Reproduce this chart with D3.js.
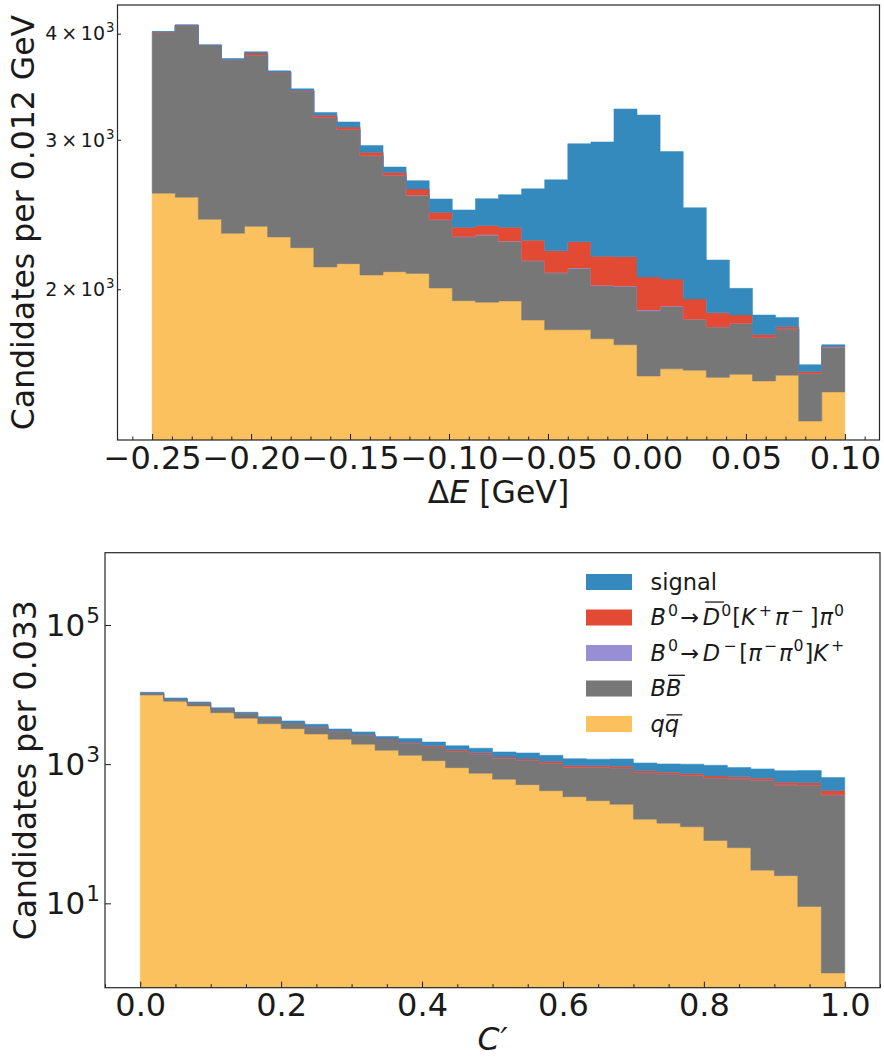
<!DOCTYPE html>
<html><head><meta charset="utf-8">
<script src="https://cdn.jsdelivr.net/npm/d3@7"></script>
<style>
body{margin:0;background:#fff}
svg{display:block}
text{font-family:"DejaVu Sans";fill:#1a1a1a}
</style>
</head><body>
<svg id="chart" width="884" height="1059"></svg>
<script>
// ================= DATA =================
// Panel 1: Delta E [GeV], 30 bins from -0.25 to 0.10
const dERange = [-0.25, 0.10];
const dENBins = 30;
const dE_qq     = [2595,2567,2418,2328,2372,2305,2239,2125,2144,2079,2098,2088,2007,1939,1931,1938,1840,1792,1792,1749,1721,1581,1612,1606,1575,1588,1560,1584,1399,1514];
const dE_BB     = [1420,1523,1455,1397,1403,1294,1185,1060,939,792,624,492,407,366,385,340,319,298,324,270,294,305,297,236,230,235,194,212,192,195];
const dE_Dminus = [1,1,1,1,1,1,1,2,2,2,2,2,2,2,2,2,3,3,3,3,3,5,2,2,1,1,1,1,1,1];
const dE_D0bar  = [2,2,2,3,20,4,5,18,20,26,22,43,48,59,60,86,123,127,156,165,167,177,145,104,70,41,14,10,8,3];
const dE_signal = [4,3,4,10,12,12,14,25,43,55,40,60,91,114,179,219,341,471,693,795,1076,1140,849,547,289,140,96,46,30,8];

// Panel 2: C', 30 bins from 0 to 1
const cpRange = [0, 1];
const cpNBins = 30;
const cp_qq     = [9870,8010,6858,5494,4565,3818,3237,2716,2279,1932,1584,1342,1123,891,740,607,508,416,341,299,265,162,142,126,80,63,30,25,9,1];
const cp_BB     = [565,550,711,711,815,833,663,709,720,697,665,674,661,656,661,609,630,624,562,604,617,593,581,567,554,550,558,477,493,360];
const cp_Dminus = [4,4,3,4,3,3,3,3,3,2,3,2,2,3,2,2,2,2,2,2,2,2,2,2,1,2,1,2,1,1];
const cp_D0bar  = [6,6,7,8,9,10,12,20,30,30,50,55,55,60,50,53,50,55,48,42,50,50,42,38,42,42,40,45,38,55];
const cp_signal = [350,370,256,271,182,157,268,287,175,247,192,272,239,229,244,228,260,241,248,234,255,233,242,267,287,236,226,258,270,224];

// stacking order, bottom to top
const seriesKeys = ["qq","BB","Dminus","D0bar","signal"];
const seriesColors = {signal:"#348ABD", D0bar:"#E24A33", Dminus:"#988ED5", BB:"#777777", qq:"#FBC15E"};

// ticks
const topXTicks = [-0.25,-0.20,-0.15,-0.10,-0.05,0.00,0.05,0.10];
const topXTickLabels = ["\u22120.25","\u22120.20","\u22120.15","\u22120.10","\u22120.05","0.00","0.05","0.10"];
const topXMinor = [-0.26,-0.24,-0.23,-0.22,-0.21,-0.19,-0.18,-0.17,-0.16,-0.14,-0.13,-0.12,-0.11,-0.09,-0.08,-0.07,-0.06,-0.04,-0.03,-0.02,-0.01,0.01,0.02,0.03,0.04,0.06,0.07,0.08,0.09,0.11];
const topYTicks = [2000,3000,4000];
const topYTickMant = ["2","3","4"];
const topYTickExp = ["3","3","3"];
const botXTicks = [0.0,0.2,0.4,0.6,0.8,1.0];
const botXTickLabels = ["0.0","0.2","0.4","0.6","0.8","1.0"];
const botXMinor = [-0.05,0.05,0.1,0.15,0.25,0.3,0.35,0.45,0.5,0.55,0.65,0.7,0.75,0.85,0.9,0.95,1.05];
const botYTicks = [10,1000,100000];
const botYTickExp = ["1","3","5"];

// legend (display order) and labels as text tokens: i=italic, s=superscript, o=overline, dx=kerning gap
const legendKeys = ["signal","D0bar","Dminus","BB","qq"];
const legendLabels = {
  signal: [{t:"signal"}],
  D0bar: [{t:"B",i:1},{t:"0",s:1,dx:2},{t:"\u2192",dx:2},{t:"D",i:1,o:1.02,dx:4},{t:"0",s:1,dx:1},{t:"[",dx:1},{t:"K",i:1},{t:"+",s:1,dx:3},{t:"\u03c0",i:1,dx:3},{t:"\u2212",s:1,dx:2},{t:"]",dx:6},{t:"\u03c0",i:1,dx:1},{t:"0",s:1,dx:1}],
  Dminus: [{t:"B",i:1},{t:"0",s:1,dx:2},{t:"\u2192",dx:2},{t:"D",i:1,dx:4},{t:"\u2212",s:1,dx:3},{t:"[",dx:3},{t:"\u03c0",i:1},{t:"\u2212",s:1,dx:2},{t:"\u03c0",i:1,dx:2},{t:"0",s:1,dx:1},{t:"]",dx:1},{t:"K",i:1},{t:"+",s:1,dx:3}],
  BB: [{t:"B",i:1},{t:"B",i:1,o:0.92}],
  qq: [{t:"q",i:1},{t:"q",i:1,o:0.74}]
};

// ================= DRAWING =================
const svg = d3.select("#chart");

function addMath(textSel, tokens, fontSize) {
  let raised = false;
  const shift = fontSize * 0.42;
  const overs = [];
  let idx = 0;
  tokens.forEach(tok => {
    const ts = textSel.append("tspan").text(tok.t);
    if (tok.i) ts.style("font-style", "italic");
    if (tok.dx) ts.attr("dx", tok.dx);
    if (tok.s) {
      ts.style("font-size", (fontSize * 0.7) + "px");
      if (!raised) { ts.attr("dy", -shift); raised = true; }
    } else if (raised) {
      ts.attr("dy", shift); raised = false;
    }
    if (tok.o) overs.push({start: idx, end: idx + tok.t.length - 1, h: tok.o, italic: !!tok.i});
    idx += tok.t.length;
  });
  // manual overlines
  const el = textSel.node();
  const parent = d3.select(el.parentNode);
  overs.forEach(o => {
    const s = el.getStartPositionOfChar(o.start);
    const e = el.getEndPositionOfChar(o.end);
    const rise = o.h * fontSize;
    const slant = o.italic ? rise * 0.1 : 0;
    parent.append("line")
      .attr("x1", s.x + slant).attr("x2", e.x + slant + 1.5)
      .attr("y1", s.y - rise).attr("y2", s.y - rise)
      .attr("stroke", "#1a1a1a").attr("stroke-width", 1.3);
  });
}

function drawPanel(p) {
  const g = svg.append("g");
  const x = d3.scaleLinear().domain(p.xDomain).range([p.left, p.right]);
  const y = d3.scaleLog().domain(p.yDomain).range([p.bottom, p.top]);
  const n = p.nBins;
  const edges = d3.range(n + 1).map(i => p.binRange[0] + i * (p.binRange[1] - p.binRange[0]) / n);
  const rows = d3.range(n).map(i => {
    const r = {};
    seriesKeys.forEach(k => r[k] = p.data[k][i]);
    return r;
  });
  const stacked = d3.stack().keys(seriesKeys)(rows);
  const ymin = p.yDomain[0];
  const clipId = "clip" + p.id;
  svg.append("clipPath").attr("id", clipId).append("rect")
    .attr("x", p.left).attr("y", p.top).attr("width", p.right - p.left).attr("height", p.bottom - p.top);
  const area = d3.area()
    .curve(d3.curveStepAfter)
    .x((d, i) => x(edges[i]))
    .y0(d => y(Math.max(d[0], ymin)))
    .y1(d => y(Math.max(d[1], ymin)));
  const plot = g.append("g").attr("clip-path", `url(#${clipId})`);
  stacked.forEach(layer => {
    const pts = d3.range(n + 1).map(i => layer[Math.min(i, n - 1)]);
    plot.append("path")
      .attr("d", area(pts))
      .attr("fill", seriesColors[layer.key])
      .attr("stroke", seriesColors[layer.key])
      .attr("stroke-width", 0.5);
  });

  // x axis ticks (inward)
  const xMajor = g.append("g").attr("transform", `translate(0,${p.bottom})`)
    .call(d3.axisBottom(x).tickValues(p.xTicks).tickFormat((d, i) => p.xTickLabels[i])
      .tickSizeInner(-6).tickSizeOuter(0).tickPadding(p.xTickPad));
  xMajor.select(".domain").remove();
  xMajor.selectAll("text").style("font-size", p.tickFont + "px").attr("fill", "#1a1a1a").style("font-family", "DejaVu Sans");
  xMajor.selectAll("line").attr("stroke", "#1a1a1a");
  const xMinor = g.append("g").attr("transform", `translate(0,${p.bottom})`)
    .call(d3.axisBottom(x).tickValues(p.xMinor).tickFormat("").tickSizeInner(-3.5).tickSizeOuter(0));
  xMinor.select(".domain").remove();
  xMinor.selectAll("line").attr("stroke", "#1a1a1a");

  // y axis ticks (inward)
  const yAx = g.append("g").attr("transform", `translate(${p.left},0)`)
    .call(d3.axisLeft(y).tickValues(p.yTicks).tickFormat("").tickSizeInner(-p.yTickLen).tickSizeOuter(0));
  yAx.select(".domain").remove();
  yAx.selectAll("line").attr("stroke", "#1a1a1a");
  p.yTicks.forEach((v, i) => {
    const t = g.append("text")
      .attr("x", p.left - p.yLabelPad)
      .attr("y", y(v))
      .attr("dy", "0.36em")
      .attr("text-anchor", "end")
      .style("font-size", p.yTickFont + "px");
    const toks = [];
    if (p.yTickMant) { toks.push({t: p.yTickMant[i]}); toks.push({t: "\u2009\u00d7\u200910"}); }
    else toks.push({t: "10"});
    toks.push({t: p.yTickExp[i], s: 1, dx: 1});
    addMath(t, toks, p.yTickFont);
  });

  // frame
  g.append("rect")
    .attr("x", p.left).attr("y", p.top)
    .attr("width", p.right - p.left).attr("height", p.bottom - p.top)
    .attr("fill", "none").attr("stroke", "#262626").attr("stroke-width", 1.2);

  // axis labels
  const xl = g.append("text")
    .attr("x", (p.left + p.right) / 2).attr("y", p.xLabelY)
    .attr("text-anchor", "middle").style("font-size", p.labelFont + "px");
  addMath(xl, p.xLabelTokens, p.labelFont);
  g.append("text")
    .attr("transform", `translate(${p.yLabelX},${(p.top + p.bottom) / 2}) rotate(-90)`)
    .attr("text-anchor", "middle").style("font-size", p.labelFont + "px")
    .text(p.yLabel);
  return {x, y};
}

drawPanel({
  id: 1, left: 117.5, right: 879.5, top: 5, bottom: 440,
  xDomain: [-0.2675, 0.1175], yDomain: [1329, 4323],
  binRange: dERange, nBins: dENBins,
  data: {qq: dE_qq, BB: dE_BB, Dminus: dE_Dminus, D0bar: dE_D0bar, signal: dE_signal},
  xTicks: topXTicks, xTickLabels: topXTickLabels, xMinor: topXMinor, xTickPad: 6,
  yTicks: topYTicks, yTickMant: topYTickMant, yTickExp: topYTickExp, yTickLen: 3.5, yLabelPad: 3, yTickFont: 19,
  tickFont: 32, labelFont: 31.5,
  xLabelTokens: [{t: "\u0394"}, {t: "E", i: 1}, {t: " [GeV]"}], xLabelY: 503,
  yLabel: "Candidates per 0.012 GeV", yLabelX: 34
});

drawPanel({
  id: 2, left: 105, right: 880, top: 552.7, bottom: 987.7,
  xDomain: [-0.05, 1.05], yDomain: [0.613, 1.094e6],
  binRange: cpRange, nBins: cpNBins,
  data: {qq: cp_qq, BB: cp_BB, Dminus: cp_Dminus, D0bar: cp_D0bar, signal: cp_signal},
  xTicks: botXTicks, xTickLabels: botXTickLabels, xMinor: botXMinor, xTickPad: 6,
  yTicks: botYTicks, yTickMant: null, yTickExp: botYTickExp, yTickLen: 6, yLabelPad: 5, yTickFont: 31,
  tickFont: 32, labelFont: 31.5,
  xLabelTokens: [{t: "C", i: 1}, {t: "\u2032", i: 1, dx: 1}], xLabelY: 1050,
  yLabel: "Candidates per 0.033", yLabelX: 36
});

// legend in bottom panel
const lg = svg.append("g");
legendKeys.forEach((k, i) => {
  const yTop = 574 + i * 35.5;
  lg.append("rect").attr("x", 586).attr("y", yTop).attr("width", 46).attr("height", 16)
    .attr("fill", seriesColors[k]);
  const t = lg.append("text").attr("x", 650.5).attr("y", yTop + 15.5).style("font-size", "22.5px");
  addMath(t, legendLabels[k], 22.5);
});
</script>
</body></html>
